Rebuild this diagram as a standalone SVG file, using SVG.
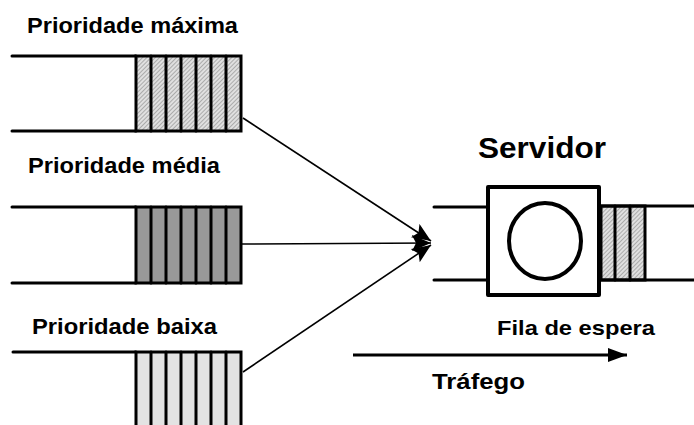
<svg xmlns="http://www.w3.org/2000/svg" width="694" height="425" viewBox="0 0 694 425">
<defs>
<style>
.t{font-family:"Liberation Sans",Arial,sans-serif;font-weight:bold;fill:#000}
.ln{stroke:#000;stroke-width:3;fill:none;stroke-linecap:round}
.cell{stroke:#000;stroke-width:3}
.con{stroke:#000;stroke-width:1.6;fill:none}
</style>
<pattern id="hatch" width="3" height="3" patternUnits="userSpaceOnUse" patternTransform="rotate(45)">
<rect width="3" height="3" fill="#e0e0e0"/>
<line x1="0" y1="0" x2="0" y2="3" stroke="#888" stroke-width="1.2"/>
</pattern>
<marker id="ah" markerUnits="userSpaceOnUse" markerWidth="20" markerHeight="16" viewBox="0 0 20 16" refX="19" refY="8" orient="auto">
<path d="M0,0 L19,8 L0,16 L4,8 z" fill="#000"/>
</marker>
<marker id="ah2" markerUnits="userSpaceOnUse" markerWidth="20" markerHeight="16" viewBox="0 0 20 16" refX="19" refY="8" orient="auto">
<path d="M0,1 L19,8 L0,15 z" fill="#000"/>
</marker>
</defs>
<rect width="694" height="425" fill="#fff"/>

<g id="queue-max">
<text class="t" x="27" y="33" font-size="22" textLength="211" lengthAdjust="spacingAndGlyphs">Prioridade máxima</text>
<line class="ln" x1="12" y1="56" x2="136" y2="56"/>
<line class="ln" x1="12" y1="131" x2="136" y2="131"/>
<rect class="cell" x="136" y="56" width="105" height="75" fill="url(#hatch)"/>
<path class="ln" d="M151,56V131M166,56V131M181,56V131M196,56V131M211,56V131M226,56V131"/>
</g>

<g id="queue-med">
<text class="t" x="28" y="173" font-size="22" textLength="192" lengthAdjust="spacingAndGlyphs">Prioridade média</text>
<line class="ln" x1="12" y1="207" x2="136" y2="207"/>
<line class="ln" x1="12" y1="283" x2="136" y2="283"/>
<rect class="cell" x="136" y="207" width="105" height="76" fill="#999"/>
<path class="ln" d="M151,207V283M166,207V283M181,207V283M196,207V283M211,207V283M226,207V283"/>
</g>

<g id="queue-low">
<text class="t" x="32" y="334" font-size="22" textLength="185" lengthAdjust="spacingAndGlyphs">Prioridade baixa</text>
<line class="ln" x1="13" y1="352" x2="136" y2="352"/>
<rect class="cell" x="136" y="352" width="105" height="90" fill="#e3e3e3"/>
<path class="ln" d="M151,352V440M166,352V440M181,352V440M196,352V440M211,352V440M226,352V440"/>
</g>

<g id="server">
<text class="t" x="478" y="158" font-size="30" textLength="128" lengthAdjust="spacingAndGlyphs">Servidor</text>
<line class="ln" x1="434" y1="207" x2="488" y2="207"/>
<line class="ln" x1="434" y1="280" x2="488" y2="280"/>
<rect x="601" y="206" width="44" height="74" fill="url(#hatch)" stroke="#000" stroke-width="3"/>
<path class="ln" d="M615,206V280M630,206V280"/>
<line class="ln" x1="601" y1="206" x2="694" y2="206"/>
<line class="ln" x1="601" y1="280" x2="694" y2="280"/>
<rect x="488" y="187" width="111" height="108" fill="#fff" stroke="#000" stroke-width="4" stroke-linejoin="round"/>
<ellipse cx="545" cy="241" rx="36" ry="38" fill="#fff" stroke="#000" stroke-width="4"/>
</g>

<g id="labels">
<text class="t" x="497" y="335" font-size="21" textLength="158" lengthAdjust="spacingAndGlyphs">Fila de espera</text>
<text class="t" x="432" y="389" font-size="22" textLength="93" lengthAdjust="spacingAndGlyphs">Tráfego</text>
</g>

<g id="connectors">
<line class="con" x1="243" y1="118" x2="431" y2="241" marker-end="url(#ah)"/>
<line class="con" x1="242" y1="244" x2="431" y2="243" marker-end="url(#ah)"/>
<line class="con" x1="243" y1="372" x2="431" y2="245" marker-end="url(#ah)"/>
<line x1="353" y1="355" x2="627" y2="355" stroke="#000" stroke-width="3" marker-end="url(#ah2)"/>
</g>
</svg>
